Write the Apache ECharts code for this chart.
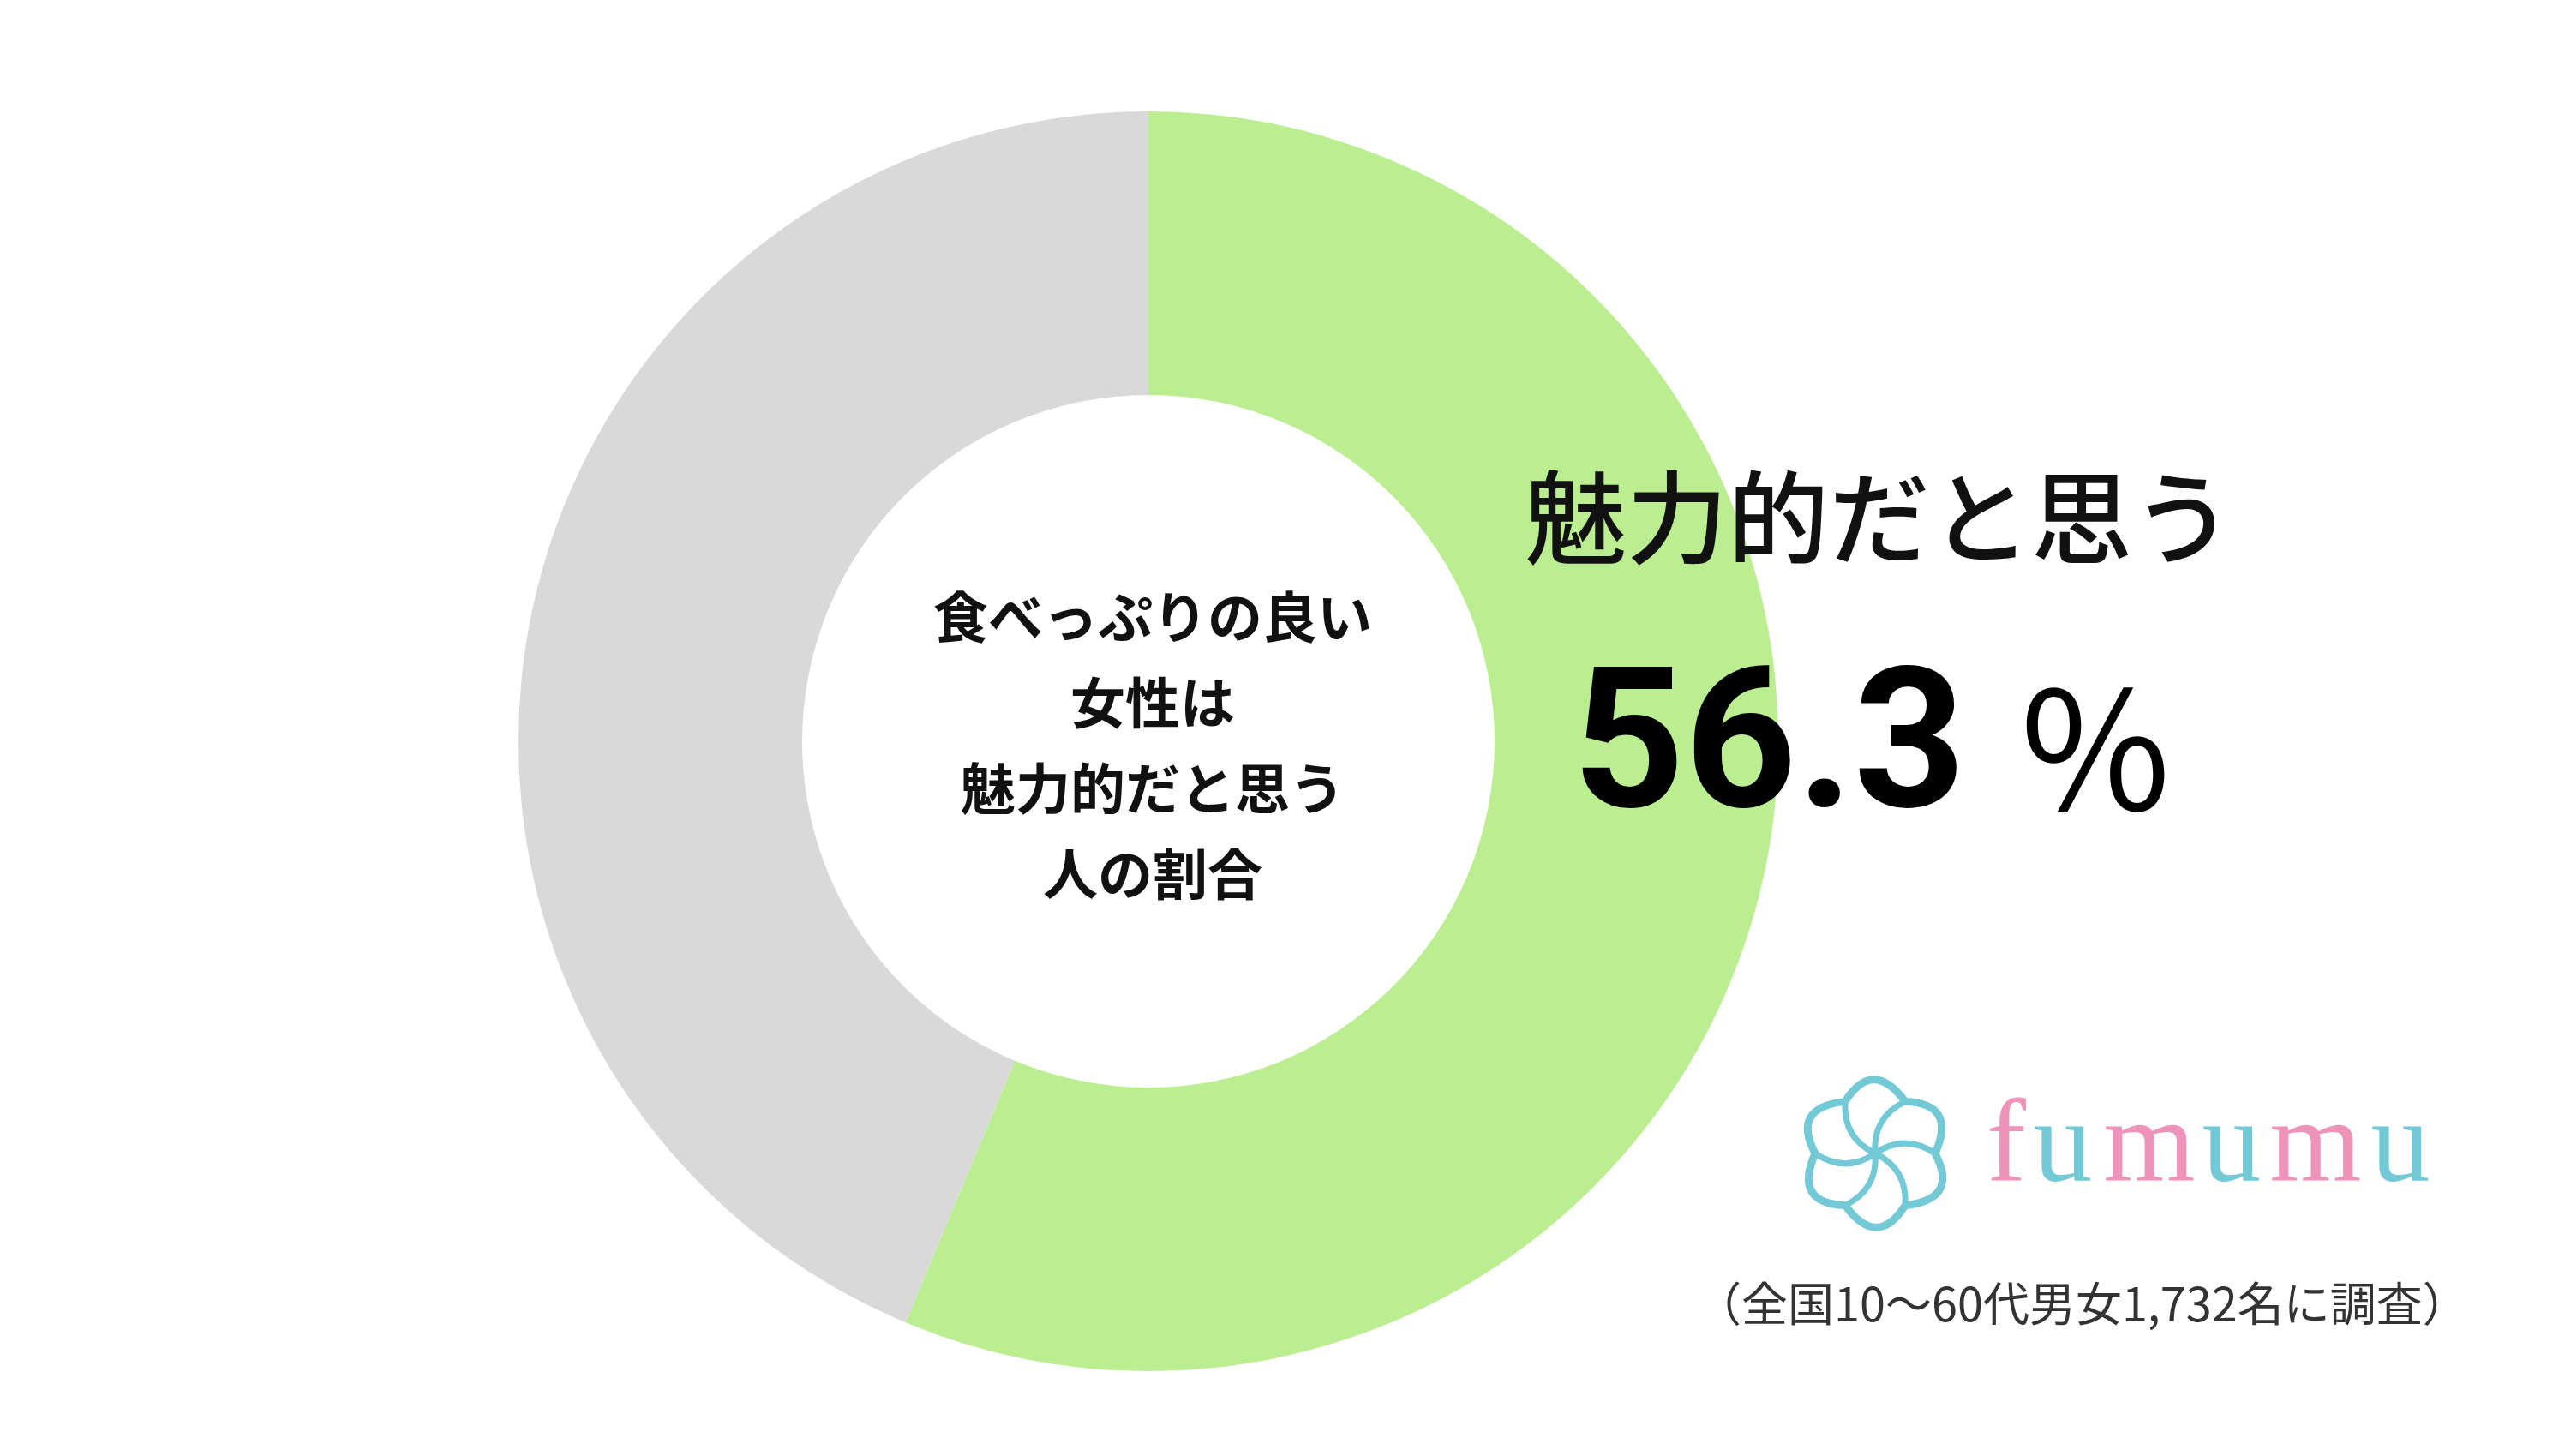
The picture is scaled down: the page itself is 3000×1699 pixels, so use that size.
<!DOCTYPE html>
<html><head><meta charset="utf-8">
<script src="https://cdn.jsdelivr.net/npm/echarts@6/dist/echarts.min.js"></script>
<style>html,body{margin:0;padding:0;background:#fff}#c{width:3000px;height:1699px}</style>
</head><body><div id="c"></div>
<script>
const categories = ['魅力的だと思う', 'その他'];
const values = [56.3, 43.7];
const colors = ['#bbee90', '#d9d9d9'];
const centerLines = ['食べっぷりの良い', '女性は', '魅力的だと思う', '人の割合'];
const note = '（全国10〜60代男女1,732名に調査）';
const logoLetters = ['f','u','m','u','m','u'];
const logoColors = ['#ee93b9','#74c9d6','#ee93b9','#74c9d6','#ee93b9','#74c9d6'];

const chart = echarts.init(document.getElementById('c'));
const jp = '"Noto Sans CJK JP", sans-serif';
const graphics = [
  {type:'text', z:100, left:1780, top:545, style:{text:categories[0], font:'500 118px '+jp, fill:'#111'}},
  {type:'text', z:100, left:1835, top:770, style:{text:values[0].toFixed(1), font:'bold 228px Roboto, "Liberation Sans", sans-serif', fill:'#000'}},
  {type:'text', z:100, left:2350, top:780, style:{text:'％', font:'190px '+jp, fill:'#000'}},
  {type:'text', z:100, left:1978, top:1494, style:{text:note, font:'54px '+jp, fill:'#333'}}
];
const xs = [2341, 2407, 2508, 2604, 2702, 2801];
logoLetters.forEach((l,i)=>graphics.push({type:'text', z:100, x:xs[i], y:1411, style:{text:l, font:'138px "Liberation Serif", serif', fill:logoColors[i], textAlign:'center', textVerticalAlign:'bottom'}}));
for (let k=0;k<6;k++){
  const a = k*Math.PI/3, cx=2188, cy=1346, r=70;
  const x1=cx+r*Math.cos(a), y1=cy+r*Math.sin(a);
  const x2=cx+r*Math.cos(a+Math.PI/3), y2=cy+r*Math.sin(a+Math.PI/3);
  graphics.push({type:'bezierCurve', z:100, shape:{x1:x1,y1:y1,x2:x2,y2:y2,cpx1:cx+1.6*r*Math.cos(a+0.5),cpy1:cy+1.6*r*Math.sin(a+0.5)}, style:{stroke:'#74c9d6', lineWidth:9, fill:null}});
  graphics.push({type:'bezierCurve', z:100, shape:{x1:cx,y1:cy,x2:x1,y2:y1,cpx1:cx+0.6*r*Math.cos(a-0.6),cpy1:cy+0.6*r*Math.sin(a-0.6)}, style:{stroke:'#74c9d6', lineWidth:7, fill:null}});
}
chart.setOption({
  animation:false,
  graphic: graphics,
  title:{text:centerLines.join('\n'), left:1340, top:865, textAlign:'center', textVerticalAlign:'middle',
    textStyle:{fontFamily:jp, fontWeight:'bold', fontSize:64, lineHeight:100, color:'#111'}},
  series:[{type:'pie', z:1, center:[1340,865], radius:[404,735], startAngle:90, clockwise:true,
    label:{show:false}, labelLine:{show:false}, silent:true,
    data: categories.map((c,i)=>({name:c, value:values[i], itemStyle:{color:colors[i]}}))}]
});
</script></body></html>
